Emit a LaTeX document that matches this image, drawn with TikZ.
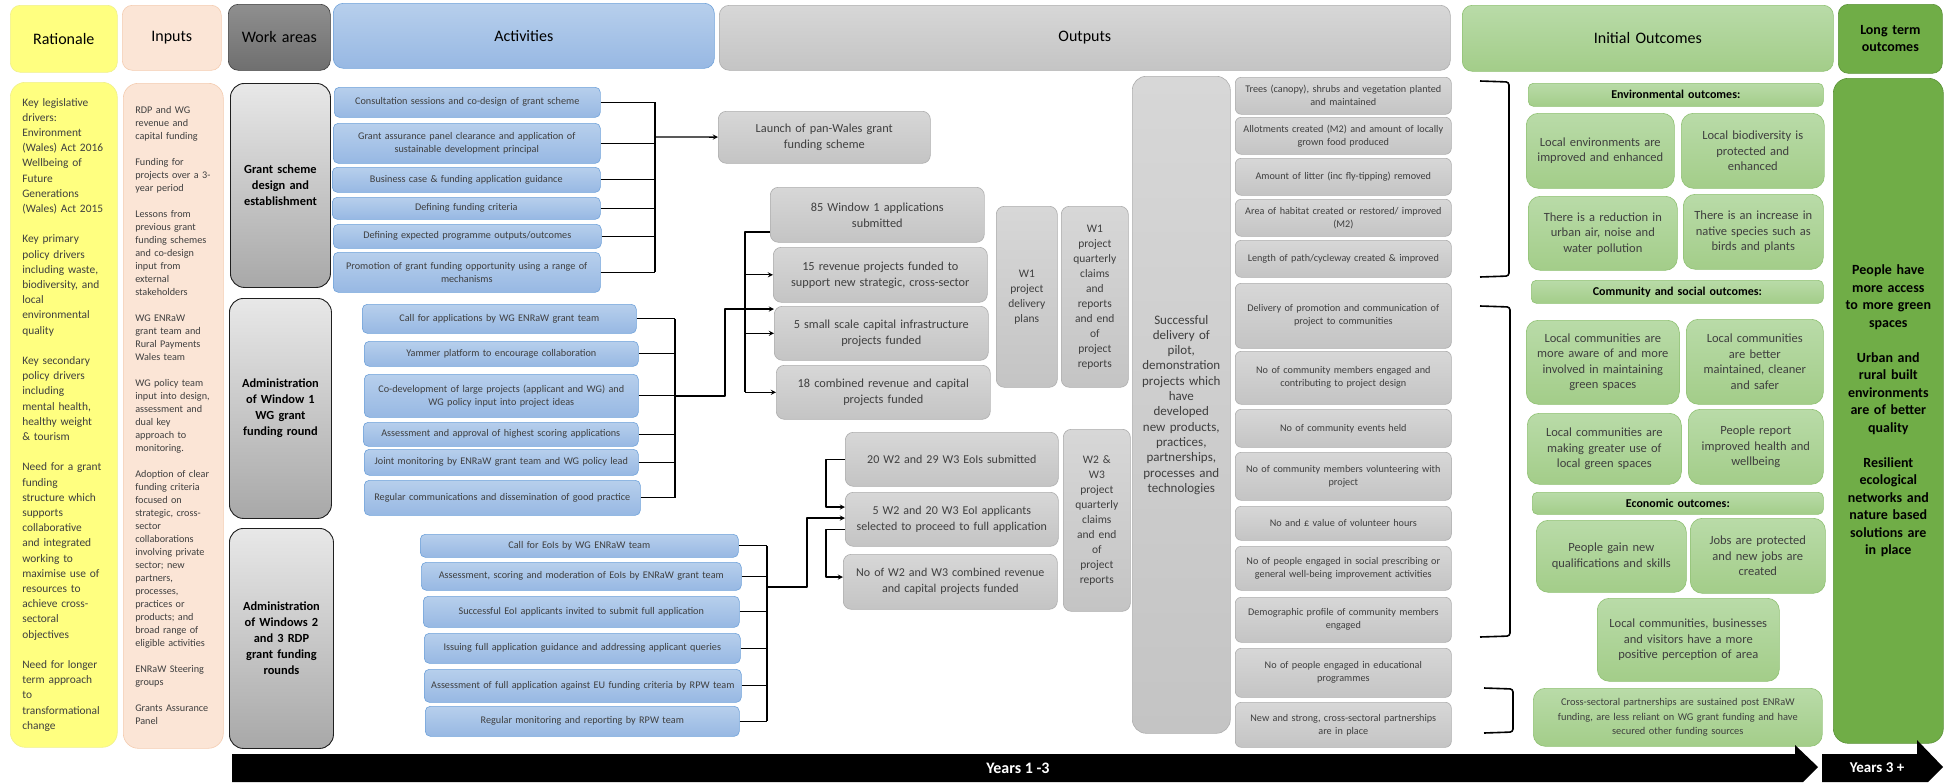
\documentclass[tikz,border=0pt]{standalone}
\usepackage{fontspec}
\setmainfont{Carlito}
\definecolor{ratY}{HTML}{FFFF80}\definecolor{ratE}{HTML}{F0F08C}
\definecolor{inpF}{HTML}{FBE5D6}\definecolor{inpE}{HTML}{F4CCB0}
\definecolor{wkA}{HTML}{8F8F8F}\definecolor{wkB}{HTML}{6F6F6F}\definecolor{wkE}{HTML}{3A3A3A}
\definecolor{wbA}{HTML}{E8E8E8}\definecolor{wbB}{HTML}{A8A8A8}\definecolor{wbE}{HTML}{1F1F1F}
\definecolor{acA}{HTML}{B7CFEC}\definecolor{acB}{HTML}{97B8E3}\definecolor{acE}{HTML}{6FA2DA}
\definecolor{ouA}{HTML}{D7D7D7}\definecolor{ouB}{HTML}{C4C4C4}\definecolor{ouE}{HTML}{AEAEAE}
\definecolor{inA}{HTML}{B9DBA8}\definecolor{inB}{HTML}{A3CD89}\definecolor{inE}{HTML}{8FC172}
\definecolor{ltG}{HTML}{70AD47}\definecolor{ltE}{HTML}{5B9237}
\definecolor{txt}{HTML}{3F3F3F}
% box from top left (x1,y1) to bottom right (x2,y2)
\newcommand\bx[7]{%
  \pgfmathsetmacro\bxw{#5-#3}\pgfmathsetmacro\bxh{#6-#4}\pgfmathsetmacro\bxt{#5-#3-4}%
  \node[anchor=north west, minimum width=\bxw pt, minimum height=\bxh pt, text width=\bxt pt, #1] (#2) at (#3,#4) {#7};}
\tikzset{
  box/.style={inner xsep=2pt, inner ysep=1pt, align=center, line width=.6pt},
  hdr/.style={box, rounded corners=10pt, font=\fontsize{16}{19}\selectfont},
  ratH/.style={hdr, fill=ratY, draw=ratE},
  inpH/.style={hdr, fill=inpF, draw=inpE},
  workH/.style={hdr, top color=wkA, bottom color=wkB, draw=wkE},
  actH/.style={hdr, top color=acA, bottom color=acB, draw=acE},
  outH/.style={hdr, top color=ouA, bottom color=ouB, draw=ouE},
  iniH/.style={hdr, top color=inA, bottom color=inB, draw=inE},
  ltH/.style={hdr, fill=ltG, draw=ltE, font=\fontsize{14}{17}\selectfont\bfseries},
  ratbox/.style={box, rounded corners=15pt, fill=ratY, draw=ratE, align=left, text width=83pt, text=txt, font=\fontsize{11.4}{15.2}\selectfont},
  inpbox/.style={box, rounded corners=15pt, fill=inpF, draw=inpE, align=left, text width=76pt, text=txt, font=\fontsize{10.2}{13}\selectfont},
  workbox/.style={box, rounded corners=14pt, top color=wbA, bottom color=wbB, draw=wbE, line width=.9pt, font=\fontsize{12.4}{16}\selectfont\bfseries},
  actbox/.style={box, rounded corners=5pt, top color=acA, bottom color=acB, draw=acE, text=txt, font=\fontsize{10.2}{13}\selectfont},
  outbox/.style={box, rounded corners=8pt, top color=ouA, bottom color=ouB, draw=ouE, text=txt, font=\fontsize{12.3}{16}\selectfont},
  colbox/.style={outbox, font=\fontsize{11.5}{15}\selectfont},
  listbox/.style={outbox, rounded corners=6pt, font=\fontsize{10.2}{13}\selectfont},
  succbox/.style={outbox, rounded corners=14pt, font=\fontsize{13}{15.3}\selectfont},
  ocbox/.style={box, rounded corners=12pt, top color=inA, bottom color=inB, draw=inE, text=txt, font=\fontsize{12.5}{15.5}\selectfont},
  secbar/.style={ocbox, rounded corners=5pt, text=black, font=\fontsize{12}{14}\selectfont\bfseries},
  ltbox/.style={box, rounded corners=15pt, fill=ltG, draw=ltE, font=\fontsize{14}{17.5}\selectfont\bfseries},
  conn/.style={line width=1.3pt},
  brk/.style={line width=1.6pt, rounded corners=3pt},
  yrs/.style={text=white, font=\fontsize{16}{18}\selectfont\bfseries}
}
\begin{document}
\begin{tikzpicture}[x=1pt, y=-1pt, line join=round, >=stealth]
\useasboundingbox[fill=white] (0,0) rectangle (1946,782);
% header row
\bx{ratH}{hrat}{10}{5}{117}{72}{Rationale}
\bx{inpH}{hinp}{122}{5}{221}{70}{Inputs}
\bx{workH}{hwork}{228}{4}{330}{70}{Work areas}
\bx{actH}{hact}{333}{3}{714}{68}{Activities}
\bx{outH}{hout}{719}{5}{1450}{70}{Outputs}
\bx{iniH}{hini}{1462}{5}{1833}{71}{Initial Outcomes}
\bx{ltH}{hlong}{1838}{4}{1942}{73}{Long term\\outcomes}
% rationale and inputs
\bx{ratbox}{rat}{10}{82}{117}{747}{Key legislative\\drivers:\\Environment\\(Wales) Act 2016\\Wellbeing of\\Future\\Generations\\(Wales) Act 2015\\[15.2pt]
Key primary\\policy drivers\\including waste,\\biodiversity, and\\local\\environmental\\quality\\[15.2pt]
Key secondary\\policy drivers\\including\\mental health,\\healthy weight\\\& tourism\\[15.2pt]
Need for a grant\\funding\\structure which\\supports\\collaborative\\and integrated\\working to\\maximise use of\\resources to\\achieve cross-\\sectoral\\objectives\\[15.2pt]
Need for longer\\term approach\\to\\transformational\\change}
\bx{inpbox}{inp}{123}{83}{223}{748}{RDP and WG\\revenue and\\capital funding\\[13pt]
Funding for\\projects over a 3-\\year period\\[13pt]
Lessons from\\previous grant\\funding schemes\\and co-design\\input from\\external\\stakeholders\\[13pt]
WG ENRaW\\grant team and\\Rural Payments\\Wales team\\[13pt]
WG policy team\\input into design,\\assessment and\\dual key\\approach to\\monitoring.\\[13pt]
Adoption of clear\\funding criteria\\focused on\\strategic, cross-\\sector\\collaborations\\involving private\\sector; new\\partners,\\processes,\\practices or\\products; and\\broad range of\\eligible activities\\[13pt]
ENRaW Steering\\groups\\[13pt]
Grants Assurance\\Panel}
% work areas
\bx{workbox}{wa1}{230}{83}{330}{287}{Grant scheme\\design and\\establishment}
\bx{workbox}{wa2}{229}{298}{331}{518}{Administration\\of Window 1\\WG grant\\funding round}
\bx{workbox}{wa3}{229}{528}{333}{748}{Administration\\of Windows 2\\and 3 RDP\\grant funding\\rounds}
% activities
\bx{actbox}{g1a1}{334}{87}{600}{117}{Consultation sessions and co-design of grant scheme}
\bx{actbox}{g1a2}{333}{123}{600}{163}{Grant assurance panel clearance and application of\\sustainable development principal}
\bx{actbox}{g1a3}{332}{167}{600}{192}{Business case \& funding application guidance}
\bx{actbox}{g1a4}{332}{197}{600}{219}{Defining funding criteria}
\bx{actbox}{g1a5}{333}{224}{601}{248}{Defining expected programme outputs/outcomes}
\bx{actbox}{g1a6}{333}{252}{600}{292}{Promotion of grant funding opportunity using a range of\\mechanisms}
\bx{actbox}{g2a1}{362}{304}{636}{333}{Call for applications by WG ENRaW grant team}
\bx{actbox}{g2a2}{364}{341}{638}{366}{Yammer platform to encourage collaboration}
\bx{actbox}{g2a3}{364}{374}{638}{417}{Co-development of large projects (applicant and WG) and\\WG policy input into project ideas}
\bx{actbox}{g2a4}{363}{422}{638}{446}{Assessment and approval of highest scoring applications}
\bx{actbox}{g2a5}{364}{449}{638}{475}{Joint monitoring by ENRaW grant team and WG policy lead}
\bx{actbox}{g2a6}{364}{480}{640}{515}{Regular communications and dissemination of good practice}
\bx{actbox}{g3a1}{420}{534}{738}{557}{Call for EoIs by WG ENRaW team}
\bx{actbox}{g3a2}{421}{562}{741}{590}{Assessment, scoring and moderation of EoIs by ENRaW grant team}
\bx{actbox}{g3a3}{423}{596}{739}{627}{Successful EoI applicants invited to submit full application}
\bx{actbox}{g3a4}{424}{633}{740}{663}{Issuing full application guidance and addressing applicant queries}
\bx{actbox}{g3a5}{424}{669}{741}{702}{Assessment of full application against EU funding criteria by RPW team}
\bx{actbox}{g3a6}{425}{706}{739}{736}{Regular monitoring and reporting by RPW team}
% outputs
\bx{outbox}{launch}{718}{111}{930}{163}{Launch of pan-Wales grant\\funding scheme}
\bx{outbox}{w1a}{770}{187}{984}{242}{85 Window 1 applications\\submitted}
\bx{outbox}{w1b}{773}{247}{987}{302}{15 revenue projects funded to\\support new strategic, cross-sector}
\bx{outbox}{w1c}{774}{306}{988}{360}{5 small scale capital infrastructure\\projects funded}
\bx{outbox}{w1d}{776}{365}{990}{419}{18 combined revenue and capital\\projects funded}
\bx{colbox}{w1p}{996}{206}{1057}{387}{W1\\project\\delivery\\plans}
\bx{colbox}{w1q}{1061}{206}{1128}{387}{W1\\project\\quarterly\\claims\\and\\reports\\and end\\of\\project\\reports}
\bx{outbox, font=\fontsize{12}{16}\selectfont}{w2a}{845}{432}{1058}{486}{20 W2 and 29 W3 EoIs submitted}
\bx{outbox, font=\fontsize{12}{16}\selectfont}{w2b}{845}{492}{1058}{546}{5 W2 and 20 W3 EoI applicants\\selected to proceed to full application}
\bx{outbox, font=\fontsize{12}{16}\selectfont}{w2c}{843}{554}{1057}{609}{No of W2 and W3 combined revenue\\and capital projects funded}
\bx{colbox}{w2q}{1063}{429}{1130}{611}{W2 \&\\W3\\project\\quarterly\\claims\\and end\\of\\project\\reports}
\bx{succbox}{succ}{1132}{76}{1230}{733}{Successful\\delivery of\\pilot,\\demonstration\\projects which\\have\\developed\\new products,\\practices,\\partnerships,\\processes and\\technologies}
\bx{listbox}{o1}{1235}{77}{1451}{114}{Trees (canopy), shrubs and vegetation planted\\and maintained}
\bx{listbox}{o2}{1235}{117}{1451}{154}{Allotments created (M2) and amount of locally\\grown food produced}
\bx{listbox}{o3}{1235}{158}{1451}{195}{Amount of litter (inc fly-tipping) removed}
\bx{listbox}{o4}{1235}{199}{1451}{236}{Area of habitat created or restored/ improved\\(M2)}
\bx{listbox}{o5}{1235}{240}{1451}{277}{Length of path/cycleway created \& improved}
\bx{listbox}{o6}{1235}{283}{1451}{348}{Delivery of promotion and communication of\\project to communities}
\bx{listbox}{o7}{1235}{351}{1451}{404}{No of community members engaged and\\contributing to project design}
\bx{listbox}{o8}{1235}{409}{1451}{447}{No of community events held}
\bx{listbox}{o9}{1235}{452}{1451}{500}{No of community members volunteering with\\project}
\bx{listbox}{o10}{1235}{506}{1451}{540}{No and £ value of volunteer hours}
\bx{listbox}{o11}{1235}{546}{1451}{590}{No of people engaged in social prescribing or\\general well-being improvement activities}
\bx{listbox}{o12}{1235}{597}{1451}{642}{Demographic profile of community members\\engaged}
\bx{listbox}{o13}{1235}{648}{1451}{697}{No of people engaged in educational\\programmes}
\bx{listbox}{o14}{1235}{702}{1451}{747}{New and strong, cross-sectoral partnerships\\are in place}
% initial outcomes
\bx{secbar}{sh1}{1528}{83}{1823}{106}{Environmental outcomes:}
\bx{ocbox}{e1}{1526}{113}{1674}{188}{Local environments are\\improved and enhanced}
\bx{ocbox}{e2}{1681}{113}{1824}{188}{Local biodiversity is\\protected and\\enhanced}
\bx{ocbox}{e3}{1528}{196}{1677}{270}{There is a reduction in\\urban air, noise and\\water pollution}
\bx{ocbox}{e4}{1683}{194}{1823}{269}{There is an increase in\\native species such as\\birds and plants}
\bx{secbar}{sh2}{1531}{280}{1823}{303}{Community and social outcomes:}
\bx{ocbox}{c1}{1526}{320}{1679}{404}{Local communities are\\more aware of and more\\involved in maintaining\\green spaces}
\bx{ocbox}{c2}{1686}{319}{1823}{404}{Local communities\\are better\\maintained, cleaner\\and safer}
\bx{ocbox}{c3}{1527}{413}{1681}{484}{Local communities are\\making greater use of\\local green spaces}
\bx{ocbox}{c4}{1688}{409}{1823}{484}{People report\\improved health and\\wellbeing}
\bx{secbar}{sh3}{1532}{492}{1823}{514}{Economic outcomes:}
\bx{ocbox}{n1}{1536}{520}{1686}{592}{People gain new\\qualifications and skills}
\bx{ocbox}{n2}{1690}{518}{1825}{593}{Jobs are protected\\and new jobs are\\created}
\bx{ocbox}{n3}{1597}{598}{1779}{681}{Local communities, businesses\\and visitors have a more\\positive perception of area}
\bx{ocbox, font=\fontsize{10.4}{14.5}\selectfont}{x1}{1533}{688}{1822}{746}{Cross-sectoral partnerships are sustained post ENRaW\\funding, are less reliant on WG grant funding and have\\secured other funding sources}
\bx{ltbox}{lt}{1833}{78}{1943}{743}{People have\\more access\\to more green\\spaces\\[17.5pt]Urban and\\rural built\\environments\\are of better\\quality\\[17.5pt]Resilient\\ecological\\networks and\\nature based\\solutions are\\in place}
% connectors: grant scheme
\coordinate (b1) at (655,137);
\foreach \n in {1,...,6}\draw[conn](g1a\n.east)--(g1a\n.east-|b1);
\draw[conn](g1a1.east-|b1)--(g1a6.east-|b1);
\draw[conn,->](b1)--(launch);
% connectors: window 1
\coordinate (b2) at (675,396);
\coordinate (j2) at (725,309);
\coordinate (s1) at (745,232);
\foreach \n in {1,...,6}\draw[conn](g2a\n.east)--(g2a\n.east-|b2);
\draw[conn](g2a1.east-|b2)--(g2a6.east-|b2);
\draw[conn,->](b2)-|(j2)--(j2-|w1c.west);
\draw[conn](s1-|w1a.west)--(s1)--(s1|-w1d.west);
\foreach \t in {w1b,w1c,w1d}\draw[conn,->](s1|-\t.west)--(\t.west);
% connectors: windows 2 and 3
\coordinate (b3) at (767,587);
\coordinate (j3) at (807,518);
\coordinate (k1) at (826,507);
\coordinate (k2) at (826,577);
\foreach \n in {1,...,6}\draw[conn](g3a\n.east)--(g3a\n.east-|b3);
\draw[conn](g3a1.east-|b3)--(g3a6.east-|b3);
\draw[conn,->](b3)-|(j3)--(j3-|w2b.west);
\draw[conn,->](w2a.west)-|(k1)--(k1-|w2b.west);
\draw[conn,->]([yshift=-10pt]w2b.west)-|(k2)--(k2-|w2c.west);
% brackets
\draw[brk](1480,81)--(1509,82)--(1509,276)--(1480,277);
\draw[brk](1480,306)--(1510,307)--(1510,636)--(1480,637);
\draw[brk](1484,688)--(1513,689)--(1513,732)--(1484,733);
% time arrows
\fill(232,754)--(1795,754)--(1795,745)--(1818,767)--(1803,782)--(232,782)--cycle;
\fill(1822,754)--(1917,754)--(1917,740)--(1943,767)--(1928,782)--(1822,782)--cycle;
\node[yrs](yr1) at (1018,768){Years 1 -3};
\node[yrs, font=\fontsize{15}{17}\selectfont\bfseries](yr2) at (1877,768){Years 3 +};
\end{tikzpicture}
\end{document}
